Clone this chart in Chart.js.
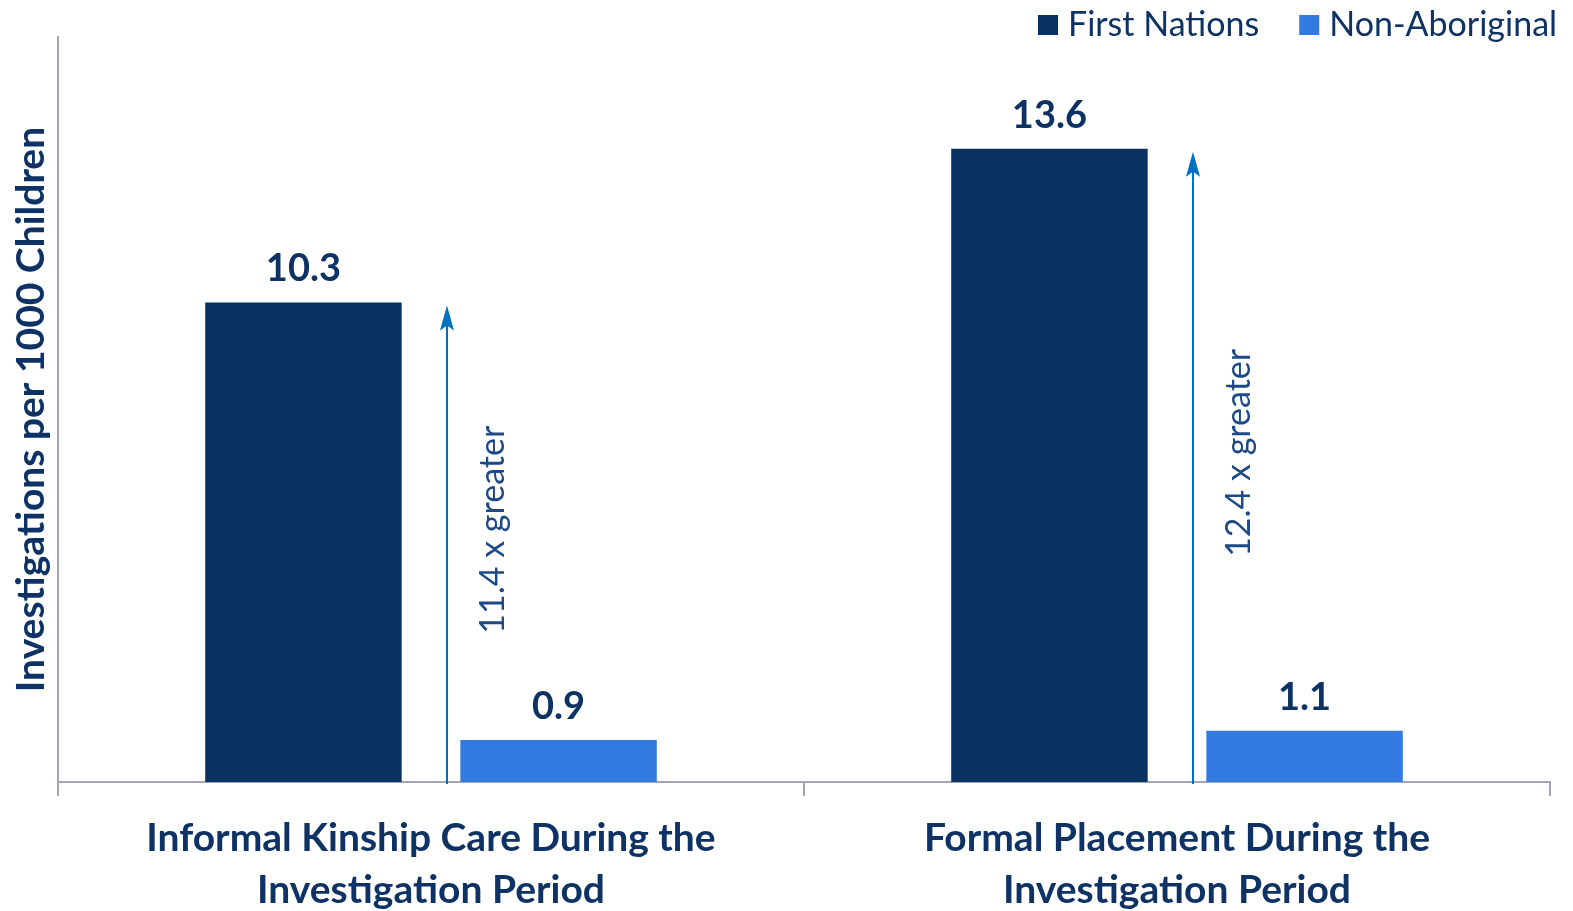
<!DOCTYPE html>
<html>
<head>
<meta charset="utf-8">
<title>Investigations per 1000 Children</title>
<style>
  html, body { margin: 0; padding: 0; background: #fff; }
  #wrap { width: 1573px; height: 911px; position: relative; }
</style>
</head>
<body>
<div id="wrap"><canvas id="chart"></canvas></div>
<script src="https://cdn.jsdelivr.net/npm/chart.js@4/dist/chart.umd.min.js"></script>
<script>
// data
var categories = [
  ['Informal Kinship Care During the', 'Investigation Period'],
  ['Formal Placement During the', 'Investigation Period']
];
var seriesNames = ['First Nations', 'Non-Aboriginal'];
var firstNations = [10.3, 13.6];
var nonAboriginal = [0.9, 1.1];
var yTitle = 'Investigations per 1000 Children';

var navy = '#083162';
var blue = '#327ae0';
var textNavy = '#0e3264';
var axisGrey = '#a4a6b8';
var FONT = 'Lato, "Open Sans", sans-serif';

// value labels, ratio arrows and legend
var extras = {
  id: 'extras',
  afterDatasetsDraw: function (chart) {
    var ctx = chart.ctx;
    var x = chart.scales.x, y = chart.scales.y;
    ctx.save();

    // value labels over bars
    ctx.fillStyle = textNavy;
    ctx.font = 'bold 38px ' + FONT;
    ctx.textAlign = 'center';
    ctx.textBaseline = 'alphabetic';
    chart.data.datasets.forEach(function (ds, di) {
      chart.getDatasetMeta(di).data.forEach(function (bar, i) {
        ctx.fillText(ds.data[i].toFixed(1), bar.x, bar.y - 21);
      });
    });

    // ratio arrows
    firstNations.forEach(function (v, i) {
      var ax = x.getPixelForValue(i) + 16;
      var top = y.getPixelForValue(v) + 3;
      var bottom = y.getPixelForValue(0);
      ctx.strokeStyle = '#0070c0';
      ctx.fillStyle = '#0070c0';
      ctx.lineWidth = 2;
      ctx.beginPath();
      ctx.moveTo(ax, bottom + 2);
      ctx.lineTo(ax, top + 10);
      ctx.stroke();
      ctx.beginPath();
      ctx.moveTo(ax, top);
      ctx.lineTo(ax - 7, top + 25);
      ctx.lineTo(ax, top + 20);
      ctx.lineTo(ax + 7, top + 25);
      ctx.closePath();
      ctx.fill();

      var ratio = (v / nonAboriginal[i]).toFixed(1) + ' x greater';
      ctx.save();
      ctx.translate(ax + 46, (top + bottom) / 2 - 14);
      ctx.rotate(-Math.PI / 2);
      ctx.fillStyle = '#1d4a86';
      ctx.font = '34px ' + FONT;
      ctx.textAlign = 'center';
      ctx.textBaseline = 'middle';
      ctx.fillText(ratio, 0, 0);
      ctx.restore();
    });

    // legend, top right
    ctx.font = '34px ' + FONT;
    ctx.textAlign = 'left';
    ctx.textBaseline = 'middle';
    var lx = 1038, ly = 25;
    chart.data.datasets.forEach(function (ds) {
      ctx.fillStyle = ds.backgroundColor;
      ctx.fillRect(lx, ly - 10, 20, 20);
      ctx.fillStyle = textNavy;
      ctx.fillText(ds.label, lx + 30, ly);
      lx += 30 + ctx.measureText(ds.label).width + 40;
    });
    ctx.restore();
  }
};

new Chart(document.getElementById('chart'), {
  type: 'bar',
  data: {
    labels: categories,
    datasets: [
      { label: seriesNames[0], data: firstNations, backgroundColor: navy,
        categoryPercentage: 0.684, barPercentage: 0.77 },
      { label: seriesNames[1], data: nonAboriginal, backgroundColor: blue,
        categoryPercentage: 0.684, barPercentage: 0.77 }
    ]
  },
  options: {
    responsive: true,
    maintainAspectRatio: false,
    animation: false,
    layout: { padding: { top: 37, right: 23, left: 0, bottom: 0 } },
    plugins: { legend: { display: false }, tooltip: { enabled: false } },
    scales: {
      x: {
        grid: { display: true, drawOnChartArea: false, drawTicks: true, tickLength: 14,
                color: axisGrey, lineWidth: 2, offset: true },
        border: { display: true, color: axisGrey, width: 2 },
        ticks: { color: textNavy, font: { family: FONT, size: 39, weight: 'bold', lineHeight: 1.34 },
                 padding: 16, maxRotation: 0, autoSkip: false },
        afterFit: function (s) { s.height = 129; }
      },
      y: {
        min: 0, max: 16,
        grid: { display: false },
        border: { display: true, color: axisGrey, width: 2 },
        ticks: { display: false },
        title: { display: true, text: yTitle, color: textNavy,
                 font: { family: FONT, size: 39, weight: 'bold' }, padding: { top: 8, bottom: 0 } },
        afterFit: function (s) { s.width = 58; }
      }
    }
  },
  plugins: [extras]
});
</script>
</body>
</html>
